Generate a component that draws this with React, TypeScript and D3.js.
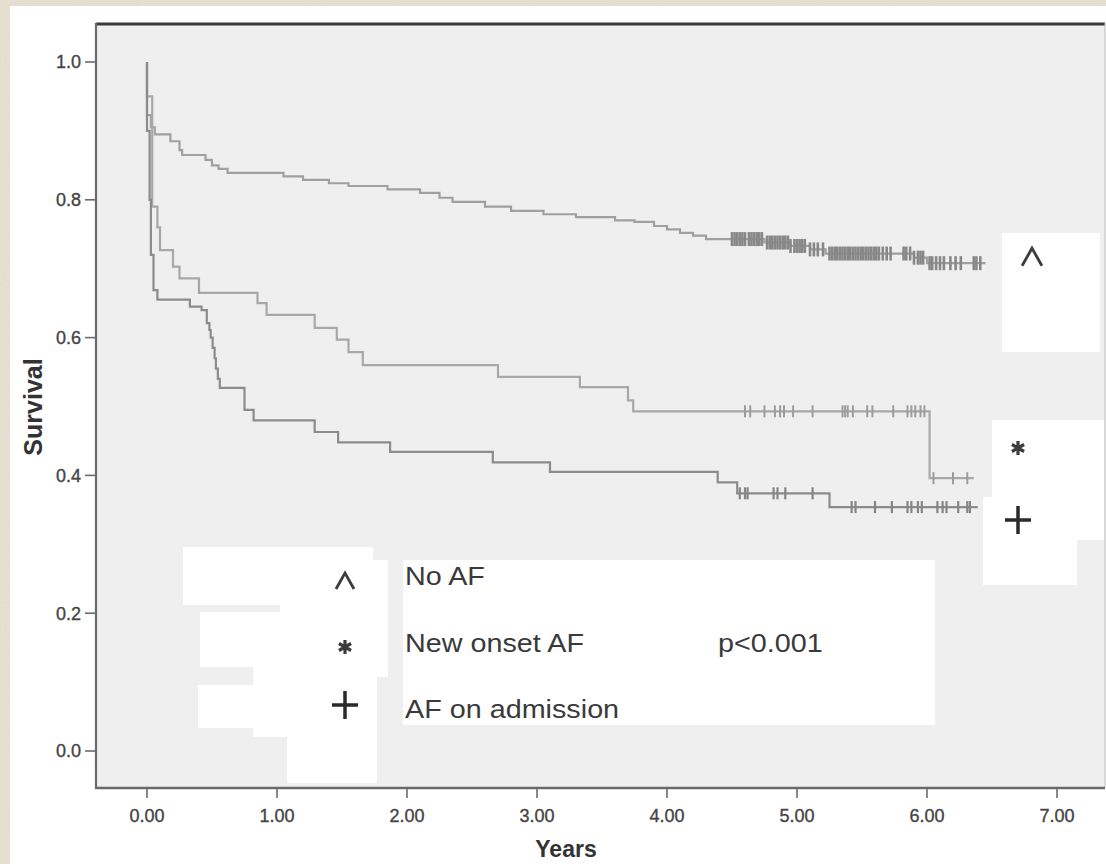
import React from "react";
import * as d3 from "d3";

// ---------- data ----------
const X_TICKS = [0, 1, 2, 3, 4, 5, 6, 7];
const X_TICK_LABELS = ["0.00", "1.00", "2.00", "3.00", "4.00", "5.00", "6.00", "7.00"];
const Y_TICKS = [0, 0.2, 0.4, 0.6, 0.8, 1.0];
const Y_TICK_LABELS = ["0.0", "0.2", "0.4", "0.6", "0.8", "1.0"];

const GROUPS = ["No AF", "New onset AF", "AF on admission"];
const P_VALUE = "p<0.001";

// Kaplan-Meier steps: [time (years), survival after event]
const NO_AF_STEPS: [number, number][] = [
  [0.0, 0.923], [0.03, 0.905], [0.06, 0.895], [0.18, 0.885], [0.25, 0.872], [0.27, 0.865],
  [0.45, 0.858], [0.5, 0.85], [0.55, 0.845], [0.62, 0.839], [1.05, 0.834], [1.2, 0.829],
  [1.4, 0.824], [1.55, 0.82], [1.85, 0.815], [2.1, 0.81], [2.25, 0.803], [2.35, 0.797],
  [2.6, 0.79], [2.8, 0.784], [3.05, 0.779], [3.3, 0.775], [3.6, 0.77], [3.75, 0.768],
  [3.9, 0.762], [4.0, 0.757], [4.1, 0.752], [4.2, 0.748], [4.3, 0.743], [4.75, 0.738],
  [4.95, 0.733], [5.1, 0.728], [5.22, 0.722], [5.9, 0.716], [6.0, 0.708],
];
const NO_AF_END = 6.45;
const NO_AF_CENSOR = [
  4.5, 4.52, 4.54, 4.56, 4.58, 4.6, 4.63, 4.65, 4.67, 4.69, 4.71, 4.73, 4.77, 4.79, 4.81,
  4.83, 4.85, 4.87, 4.89, 4.91, 4.93, 4.95, 4.98, 5.0, 5.02, 5.04, 5.06, 5.1, 5.13, 5.16,
  5.2, 5.25, 5.27, 5.29, 5.31, 5.33, 5.35, 5.37, 5.39, 5.41, 5.43, 5.45, 5.47, 5.49, 5.51,
  5.53, 5.55, 5.57, 5.59, 5.61, 5.63, 5.66, 5.69, 5.72, 5.82, 5.84, 5.87, 5.9, 5.93, 5.95,
  5.97, 6.02, 6.04, 6.07, 6.1, 6.13, 6.18, 6.22, 6.26, 6.36, 6.38, 6.41,
];

const NEW_AF_STEPS: [number, number][] = [
  [0.0, 0.95], [0.04, 0.79], [0.08, 0.76], [0.1, 0.727], [0.2, 0.703], [0.25, 0.686],
  [0.4, 0.665], [0.85, 0.65], [0.92, 0.633], [1.29, 0.614], [1.46, 0.597], [1.55, 0.579],
  [1.66, 0.56], [2.7, 0.543], [3.33, 0.528], [3.7, 0.509], [3.74, 0.493], [6.02, 0.396],
];
const NEW_AF_END = 6.36;
const NEW_AF_CENSOR = [
  4.6, 4.64, 4.75, 4.83, 4.87, 4.9, 4.97, 5.12, 5.35, 5.37, 5.39, 5.43, 5.54, 5.58, 5.74,
  5.85, 5.88, 5.91, 5.95, 5.98, 6.05, 6.2, 6.31,
];

const ADM_AF_STEPS: [number, number][] = [
  [0.0, 0.9], [0.02, 0.8], [0.03, 0.72], [0.05, 0.669], [0.08, 0.655], [0.33, 0.645],
  [0.42, 0.64], [0.46, 0.621], [0.48, 0.611], [0.49, 0.6], [0.505, 0.585], [0.52, 0.57],
  [0.53, 0.555], [0.545, 0.54], [0.56, 0.527], [0.75, 0.495], [0.82, 0.48], [1.29, 0.463],
  [1.47, 0.448], [1.87, 0.434], [2.66, 0.419], [3.1, 0.405], [4.39, 0.39], [4.54, 0.374],
  [5.25, 0.354],
];
const ADM_AF_END = 6.39;
const ADM_AF_CENSOR = [
  4.56, 4.6, 4.62, 4.82, 4.85, 4.91, 5.12, 5.42, 5.45, 5.6, 5.73, 5.85, 5.88, 5.93, 5.96,
  6.08, 6.12, 6.15, 6.24, 6.31, 6.33,
];

// ---------- layout ----------
const W = 1106;
const H = 864;
const PLOT = { left: 96, top: 23, right: 1105, bottom: 788 };
const FONT = "'Liberation Sans', Arial, sans-serif";

// white pasted-over patches (layout decoration)
const PATCHES: [number, number, number, number][] = [
  [183, 547, 373, 605],
  [280, 560, 388, 677],
  [200, 612, 280, 667],
  [253, 667, 377, 737],
  [198, 685, 253, 728],
  [287, 737, 377, 783],
  [403, 560, 935, 725],
  [1002, 233, 1100, 352],
  [992, 420, 1104, 540],
  [983, 497, 1077, 585],
];

type Series = {
  steps: [number, number][];
  end: number;
  censor: number[];
  line: string;
  mark: string;
  markH: number;
  markW: number;
};
const SERIES: Series[] = [
  { steps: NO_AF_STEPS, end: NO_AF_END, censor: NO_AF_CENSOR, line: "#a0a0a0", mark: "#888888", markH: 7, markW: 2.6 },
  { steps: NEW_AF_STEPS, end: NEW_AF_END, censor: NEW_AF_CENSOR, line: "#a8a8a8", mark: "#9c9c9c", markH: 6, markW: 2 },
  { steps: ADM_AF_STEPS, end: ADM_AF_END, censor: ADM_AF_CENSOR, line: "#8c8c8c", mark: "#858585", markH: 6, markW: 2.2 },
];

function survivalAt(steps: [number, number][], t: number): number {
  let s = 1;
  for (const [ti, si] of steps) if (ti <= t) s = si;
  return s;
}

function Caret({ x, y, s = 1 }: { x: number; y: number; s?: number }) {
  return (
    <path
      d={`M${x - 9 * s},${y + 8 * s} L${x},${y - 8 * s} L${x + 9 * s},${y + 8 * s}`}
      fill="none"
      stroke="#3c3c3c"
      strokeWidth={2.8}
    />
  );
}
function Star({ x, y }: { x: number; y: number }) {
  const r = 7;
  const parts = [90, 30, 150].map((a) => {
    const rad = (a * Math.PI) / 180;
    return `M${x - r * Math.cos(rad)},${y - r * Math.sin(rad)} L${x + r * Math.cos(rad)},${y + r * Math.sin(rad)}`;
  });
  return <path d={parts.join(" ")} stroke="#3c3c3c" strokeWidth={3.2} fill="none" />;
}
function Plus({ x, y }: { x: number; y: number }) {
  return <path d={`M${x - 13},${y} H${x + 13} M${x},${y - 14} V${y + 14}`} stroke="#2a2a2a" strokeWidth={3.5} fill="none" />;
}

export default function App() {
  const x = d3.scaleLinear().domain([0, 7]).range([147, 1057]);
  const y = d3.scaleLinear().domain([0, 1]).range([751, 62]);

  const lineGen = d3
    .line<[number, number]>()
    .x((d) => x(d[0]))
    .y((d) => y(d[1]))
    .curve(d3.curveStepAfter);

  const legendText = (txt: string, tx: number, ty: number) => (
    <text
      transform={`translate(${tx},${ty}) scale(1.15,1)`}
      fontFamily={FONT}
      fontSize={25}
      fill="#3a3a3a"
    >
      {txt}
    </text>
  );

  return (
    <svg
      width={W}
      height={H}
      style={{ position: "absolute", left: 0, top: 0, display: "block" }}
      xmlns="http://www.w3.org/2000/svg"
    >
      <defs>
        <filter id="paper" x="0" y="0" width="100%" height="100%">
          <feTurbulence type="fractalNoise" baseFrequency="0.9" numOctaves={2} seed={3} />
          <feColorMatrix
            type="matrix"
            values="0 0 0 0 0.86  0 0 0 0 0.82  0 0 0 0 0.75  0 0 0 0.9 0"
          />
          <feComposite in2="SourceGraphic" operator="in" />
        </filter>
      </defs>
      <rect x={0} y={0} width={W} height={H} fill="#e2d9ca" />
      <rect x={0} y={0} width={W} height={H} fill="#e2d9ca" filter="url(#paper)" opacity={0.6} />
      <rect x={10} y={6} width={W - 10} height={H - 6} fill="#ffffff" />

      {/* plot area */}
      <rect
        x={PLOT.left}
        y={PLOT.top}
        width={PLOT.right - PLOT.left}
        height={PLOT.bottom - PLOT.top}
        fill="#efefef"
      />
      {PATCHES.map(([x0, y0, x1, y1], i) => (
        <rect key={i} x={x0} y={y0} width={x1 - x0} height={y1 - y0} fill="#ffffff" />
      ))}

      {/* curves */}
      {SERIES.map((s, i) => {
        const pts: [number, number][] = [[0, 1], ...s.steps, [s.end, s.steps[s.steps.length - 1][1]]];
        return (
          <g key={i}>
            <path d={lineGen(pts) || ""} fill="none" stroke={s.line} strokeWidth={2.2} />
            {s.censor.map((t, j) => {
              const sv = survivalAt(s.steps, t);
              return (
                <line
                  key={j}
                  x1={x(t)}
                  x2={x(t)}
                  y1={y(sv) - s.markH}
                  y2={y(sv) + s.markH}
                  stroke={s.mark}
                  strokeWidth={s.markW}
                />
              );
            })}
          </g>
        );
      })}

      {/* frame / axes */}
      <line x1={PLOT.left} x2={PLOT.right} y1={PLOT.top + 1} y2={PLOT.top + 1} stroke="#3a3a3a" strokeWidth={3} />
      <line x1={PLOT.right} x2={PLOT.right} y1={PLOT.top} y2={PLOT.bottom} stroke="#bdbdbd" strokeWidth={1} />
      <line x1={PLOT.left} x2={PLOT.left} y1={PLOT.top} y2={PLOT.bottom + 1} stroke="#6a6a6a" strokeWidth={2.2} />
      <line x1={PLOT.left - 1} x2={PLOT.right} y1={PLOT.bottom} y2={PLOT.bottom} stroke="#6a6a6a" strokeWidth={2.6} />

      {Y_TICKS.map((v, i) => (
        <g key={i}>
          <line x1={85} x2={PLOT.left} y1={y(v)} y2={y(v)} stroke="#6a6a6a" strokeWidth={1.6} />
          <text
            x={81}
            y={y(v) + 6.4}
            textAnchor="end"
            fontFamily={FONT}
            fontSize={18}
            fill="#444"
            stroke="#444"
            strokeWidth={0.35}
          >
            {Y_TICK_LABELS[i]}
          </text>
        </g>
      ))}
      {X_TICKS.map((v, i) => (
        <g key={i}>
          <line x1={x(v)} x2={x(v)} y1={PLOT.bottom} y2={PLOT.bottom + 10} stroke="#6a6a6a" strokeWidth={1.6} />
          <text
            x={x(v)}
            y={822}
            textAnchor="middle"
            fontFamily={FONT}
            fontSize={18}
            fill="#444"
            stroke="#444"
            strokeWidth={0.35}
          >
            {X_TICK_LABELS[i]}
          </text>
        </g>
      ))}

      <text x={566} y={857} textAnchor="middle" fontFamily={FONT} fontSize={23} fontWeight="bold" fill="#333">
        Years
      </text>
      <text
        transform={`translate(42,407) rotate(-90)`}
        textAnchor="middle"
        fontFamily={FONT}
        fontSize={25}
        fontWeight="bold"
        fill="#333"
      >
        Survival
      </text>

      {/* legend */}
      <Caret x={345} y={581} />
      <Star x={345} y={647} />
      <Plus x={345} y={705} />
      {legendText(GROUPS[0], 405, 585)}
      {legendText(GROUPS[1], 405, 652)}
      {legendText(GROUPS[2], 405, 718)}
      {legendText(P_VALUE, 718, 652)}

      {/* right-side curve labels */}
      <Caret x={1032} y={257} s={1.1} />
      <Star x={1018} y={448} />
      <Plus x={1018} y={520} />
    </svg>
  );
}
